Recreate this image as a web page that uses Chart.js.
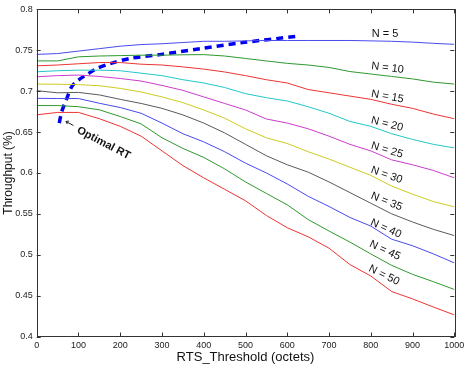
<!DOCTYPE html>
<html>
<head>
<meta charset="utf-8">
<script src="https://cdn.jsdelivr.net/npm/chart.js@4.4.0/dist/chart.umd.min.js"></script>
<style>
  html, body { margin: 0; padding: 0; background: #fff; }
  canvas { display: block; }
</style>
</head>
<body>
<canvas id="grafica" width="469" height="366"></canvas>
<script>
// RTS threshold (octets) sampled every 50
const rtsThreshold = [0, 50, 100, 150, 200, 250, 300, 350, 400, 450, 500, 550, 600, 650, 700, 750, 800, 850, 900, 950, 1000];

// throughput for each number of stations N
const thrN5  = [0.745, 0.746, 0.749, 0.752, 0.755, 0.757, 0.758, 0.7595, 0.761, 0.761, 0.7615, 0.762, 0.762, 0.762, 0.762, 0.762, 0.7615, 0.761, 0.760, 0.7585, 0.7573];
const thrN10 = [0.737, 0.737, 0.742, 0.743, 0.7435, 0.744, 0.744, 0.7445, 0.7447, 0.743, 0.740, 0.737, 0.734, 0.732, 0.729, 0.724, 0.721, 0.718, 0.715, 0.711, 0.7087];
const thrN15 = [0.731, 0.732, 0.7335, 0.735, 0.735, 0.733, 0.732, 0.7297, 0.727, 0.7235, 0.719, 0.714, 0.710, 0.702, 0.698, 0.694, 0.690, 0.684, 0.679, 0.672, 0.6663];
const thrN20 = [0.7237, 0.725, 0.7257, 0.7257, 0.725, 0.722, 0.719, 0.714, 0.710, 0.7045, 0.697, 0.692, 0.688, 0.681, 0.673, 0.663, 0.657, 0.648, 0.641, 0.635, 0.6306];
const thrN25 = [0.7176, 0.719, 0.7197, 0.718, 0.7155, 0.7124, 0.707, 0.701, 0.693, 0.685, 0.677, 0.666, 0.661, 0.654, 0.645, 0.635, 0.627, 0.616, 0.610, 0.603, 0.594];
const thrN30 = [0.7087, 0.7085, 0.708, 0.7067, 0.7034, 0.699, 0.693, 0.686, 0.677, 0.667, 0.654, 0.643, 0.636, 0.626, 0.617, 0.607, 0.597, 0.584, 0.574, 0.565, 0.5586];
const thrN35 = [0.7006, 0.698, 0.6985, 0.6954, 0.690, 0.685, 0.679, 0.671, 0.661, 0.649, 0.635, 0.621, 0.610, 0.601, 0.589, 0.576, 0.563, 0.550, 0.540, 0.531, 0.5234];
const thrN40 = [0.6913, 0.691, 0.691, 0.6852, 0.680, 0.673, 0.661, 0.648, 0.638, 0.626, 0.612, 0.600, 0.5865, 0.5715, 0.559, 0.5456, 0.535, 0.519, 0.511, 0.501, 0.490];
const thrN45 = [0.6824, 0.6824, 0.681, 0.6772, 0.669, 0.660, 0.643, 0.630, 0.619, 0.605, 0.589, 0.575, 0.561, 0.543, 0.529, 0.5155, 0.501, 0.487, 0.476, 0.467, 0.4575];
const thrN50 = [0.6711, 0.674, 0.674, 0.6663, 0.657, 0.645, 0.627, 0.609, 0.594, 0.580, 0.566, 0.548, 0.533, 0.522, 0.508, 0.488, 0.474, 0.455, 0.446, 0.436, 0.4264];

// optimal RTS threshold curve (dashed)
const optimalX = [54, 60, 72, 84, 100, 124, 144, 176, 223, 295, 391, 487, 627];
const optimalY = [0.661, 0.675, 0.691, 0.7055, 0.7136, 0.7216, 0.7277, 0.7337, 0.740, 0.7447, 0.752, 0.759, 0.7674];

const seriesNames = ['N = 5', 'N = 10', 'N = 15', 'N = 20', 'N = 25', 'N = 30', 'N = 35', 'N = 40', 'N = 45', 'N = 50'];
const xTicks = [0, 100, 200, 300, 400, 500, 600, 700, 800, 900, 1000];
const yTicks = [0.4, 0.45, 0.5, 0.55, 0.6, 0.65, 0.7, 0.75, 0.8];

const allSeries = [thrN5, thrN10, thrN15, thrN20, thrN25, thrN30, thrN35, thrN40, thrN45, thrN50];
const colores = ['#4a4aee', '#2f992f', '#ee3434', '#22c8c8', '#cc3ccc', '#cccc22', '#5a5a5a', '#4a4aee', '#2f992f', '#ee3434'];

// where the "N = .." labels sit (data coords) and their angle
const etiquetas = [
    [834, 0.770, 0], [840, 0.7285, 7], [840, 0.6933, 10], [839, 0.6597, 14], [839, 0.6278, 17],
    [838, 0.5974, 19], [838, 0.565, 22], [836, 0.5319, 24], [834, 0.5052, 25], [832, 0.4749, 26]
];

const FONT = 'Liberation Sans, Arial, Helvetica, sans-serif';

const datasets = allSeries.map(function (serie, i) {
    return {
        label: seriesNames[i],
        data: serie.map(function (v, j) { return { x: rtsThreshold[j], y: v }; }),
        borderColor: colores[i],
        borderWidth: 1,
        pointRadius: 0,
        tension: 0,
        fill: false
    };
});

datasets.push({
    label: 'Optimal RT',
    data: optimalX.map(function (v, j) { return { x: v, y: optimalY[j] }; }),
    borderColor: '#0000ee',
    borderWidth: 3.5,
    borderDash: [7, 5],
    borderCapStyle: 'butt',
    pointRadius: 0,
    tension: 0.3,
    fill: false
});

// box, inward ticks and text annotations
const marcoMatlab = {
    id: 'marcoMatlab',
    afterDatasetsDraw: function (chart) {
        const ctx = chart.ctx;
        const a = chart.chartArea;
        const sx = chart.scales.x;
        const sy = chart.scales.y;
        ctx.save();
        ctx.strokeStyle = '#333';
        ctx.lineWidth = 1;
        ctx.strokeRect(Math.round(a.left) + 0.5, Math.round(a.top) + 0.5,
            Math.round(a.right - a.left), Math.round(a.bottom - a.top));
        ctx.beginPath();
        xTicks.forEach(function (t) {
            const px = Math.round(sx.getPixelForValue(t)) + 0.5;
            ctx.moveTo(px, a.bottom); ctx.lineTo(px, a.bottom - 4);
            ctx.moveTo(px, a.top); ctx.lineTo(px, a.top + 4);
        });
        yTicks.forEach(function (t) {
            const py = Math.round(sy.getPixelForValue(t)) + 0.5;
            ctx.moveTo(a.left, py); ctx.lineTo(a.left + 4, py);
            ctx.moveTo(a.right, py); ctx.lineTo(a.right - 4, py);
        });
        ctx.stroke();

        // N = .. labels
        ctx.fillStyle = '#111';
        ctx.font = '11px ' + FONT;
        ctx.textAlign = 'center';
        ctx.textBaseline = 'middle';
        etiquetas.forEach(function (e, i) {
            ctx.save();
            ctx.translate(sx.getPixelForValue(e[0]), sy.getPixelForValue(e[1]));
            ctx.rotate(e[2] * Math.PI / 180);
            ctx.fillText(seriesNames[i], 0, 0);
            ctx.restore();
        });

        // "Optimal RT" with small arrow
        const tipX = sx.getPixelForValue(70), tipY = sy.getPixelForValue(0.663);
        const tailX = sx.getPixelForValue(88), tailY = sy.getPixelForValue(0.658);
        const ang = Math.atan2(tipY - tailY, tipX - tailX);
        ctx.strokeStyle = '#222';
        ctx.beginPath();
        ctx.moveTo(tailX, tailY); ctx.lineTo(tipX, tipY);
        ctx.moveTo(tipX, tipY);
        ctx.lineTo(tipX - 3 * Math.cos(ang - 0.6), tipY - 3 * Math.sin(ang - 0.6));
        ctx.moveTo(tipX, tipY);
        ctx.lineTo(tipX - 3 * Math.cos(ang + 0.6), tipY - 3 * Math.sin(ang + 0.6));
        ctx.stroke();

        ctx.save();
        ctx.translate(sx.getPixelForValue(98), sy.getPixelForValue(0.653));
        ctx.rotate(27.5 * Math.PI / 180);
        ctx.font = 'bold 11px ' + FONT;
        ctx.textAlign = 'left';
        ctx.fillStyle = '#111';
        ctx.fillText('Optimal RT', 0, 0);
        ctx.restore();
        ctx.restore();
    }
};

const $Lienzo = document.getElementById('grafica');

new Chart($Lienzo, {
    type: 'line',
    data: { datasets: datasets },
    plugins: [marcoMatlab],
    options: {
        responsive: false,
        animation: false,
        devicePixelRatio: 1,
        layout: { padding: { left: 0, right: 14.7, top: 7, bottom: 0 } },
        plugins: {
            legend: { display: false },
            tooltip: { enabled: false }
        },
        scales: {
            x: {
                type: 'linear',
                min: 0,
                max: 1000,
                afterFit: function (s) { s.height = 29.5; },
                afterBuildTicks: function (s) { s.ticks = xTicks.map(function (v) { return { value: v }; }); },
                grid: { display: false, drawTicks: false },
                border: { display: false },
                ticks: {
                    padding: 4,
                    maxRotation: 0,
                    color: '#222',
                    font: { family: FONT, size: 9 },
                    callback: function (v) { return String(v); }
                },
                title: {
                    display: true,
                    text: 'RTS_Threshold (octets)',
                    color: '#111',
                    font: { family: FONT, size: 13 },
                    padding: { top: 0, bottom: 1 }
                }
            },
            y: {
                min: 0.4,
                max: 0.8,
                afterFit: function (s) { s.width = 36.7; },
                afterBuildTicks: function (s) { s.ticks = yTicks.map(function (v) { return { value: v }; }); },
                grid: { display: false, drawTicks: false },
                border: { display: false },
                ticks: {
                    padding: 4,
                    color: '#222',
                    font: { family: FONT, size: 9 },
                    callback: function (v) { return String(+Number(v).toFixed(2)); }
                },
                title: {
                    display: true,
                    text: 'Throughput (%)',
                    color: '#111',
                    font: { family: FONT, size: 12 },
                    padding: { top: 1.3, bottom: 0 }
                }
            }
        }
    }
});
</script>
</body>
</html>
